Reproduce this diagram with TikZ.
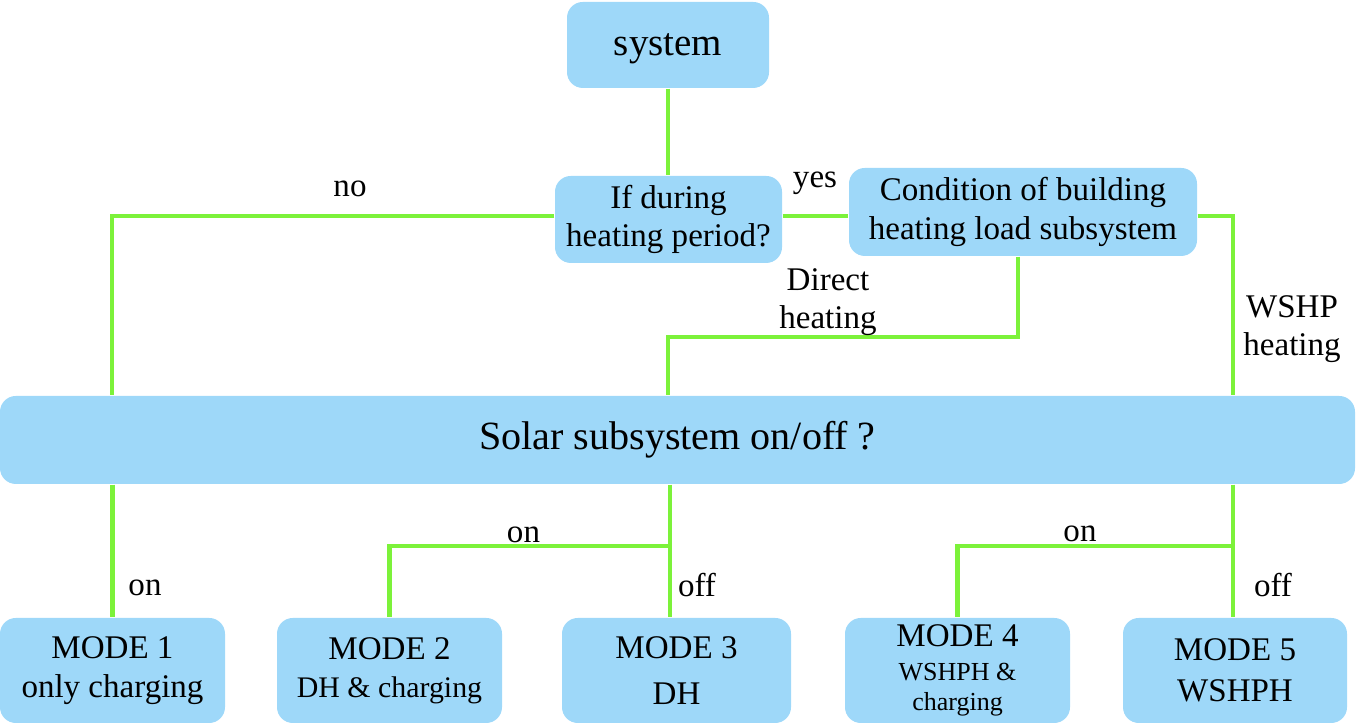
\documentclass[tikz,border=0pt]{standalone}
\usepackage{fontspec}
\setmainfont{Liberation Serif}
\usetikzlibrary{positioning}
\definecolor{boxblue}{RGB}{158,216,249}
\definecolor{linkgreen}{RGB}{124,242,58}
\tikzset{
  every picture/.style = {
    line join = miter,
  }
  ,
  block/.style = {
    rectangle,
    rounded corners = 4.5pt,
    fill = boxblue,
    align = center,
    inner sep = 0pt,
    font = \fontsize{9.4}{10.9}\selectfont
  }
  , % connectors
  link/.style = {
    draw = linkgreen,
    line width = 1.2pt
  }
  , % labels of connectors
  label-link/.style = {
    font = \fontsize{9.4}{10.7}\selectfont,
    align = center,
    inner sep = 0pt
  }
}

\begin{document}
\begin{tikzpicture}
\useasboundingbox (0,0) rectangle (13.57,7.23);
% decision boxes
\node[block, minimum width=2.02cm, minimum height=0.86cm, font=\fontsize{11.1}{13}\selectfont, text height=0.75em, text depth=0.13em] at (6.68,6.78) (sys) {system};
\node[block, minimum width=2.27cm, minimum height=0.87cm, yshift=-0.03cm] at (6.685,5.065) (per) {If during\\heating period?};
\node[block, minimum width=3.48cm, minimum height=0.88cm] at (10.23,5.11) (cond) {Condition of building\\heating load subsystem};
\node[block, minimum width=13.55cm, minimum height=0.88cm, font=\fontsize{11.4}{13}\selectfont] at (6.775,2.83) (sol) {Solar subsystem on/off ?};
% modes
\node[block, minimum width=2.25cm, minimum height=1.05cm] at (1.125,0.525) (m1) {MODE 1\\only charging};
\node[block, minimum width=2.25cm, minimum height=1.05cm] at (3.895,0.525) (m2) {MODE 2\\{\fontsize{8.5}{10}\selectfont DH \& charging}};
\node[block, minimum width=2.29cm, minimum height=1.05cm] at (6.765,0.525) (m3) {MODE 3\\[2.4pt]DH};
\node[block, minimum width=2.25cm, minimum height=1.05cm] at (9.575,0.525) (m4) {MODE 4\\[-1.3pt]{\fontsize{7.4}{9}\selectfont WSHPH \&}\\[-2.2pt]{\fontsize{7.4}{9}\selectfont charging}};
\node[block, minimum width=2.24cm, minimum height=1.05cm] at (12.35,0.525) (m5) {MODE 5\\[0.7pt]WSHPH};

% bends
\coordinate (nob) at (1.12,5.07);
\coordinate (dhb) at (10.18,3.86);
\coordinate (wsb) at (12.33,5.07);
\coordinate (b3) at (6.70,1.77);
\coordinate (b5) at (12.33,1.77);

% connectors
\draw[link] (sys.south) -- (sys.south |- per.north);
\draw[link] (per.west |- nob) -- (nob) -- (nob |- sol.north);
\draw[link] (per.east |- nob) -- (cond.west |- nob);
\draw[link] (cond.south -| dhb) -- (dhb) -| (6.68,0 |- sol.north);
\draw[link] (cond.east |- wsb) -- (wsb) -- (wsb |- sol.north);
\draw[link] (sol.south -| m1.north) -- (m1.north);
\draw[link] (sol.south -| b3) -- (b3 |- m3.north);
\draw[link] (b3) -| (m2.north);
\draw[link] (sol.south -| b5) -- (b5 |- m5.north);
\draw[link] (b5) -| (m4.north);

% labels
\node[label-link] at (3.50,5.345) (no) {no};
\node[label-link] at (8.15,5.395) (yes) {yes};
\node[label-link] at (8.28,4.21) (dir) {Direct\\heating};
\node[label-link] at (12.92,3.94) (wshp) {WSHP\\heating};
\node[label-link] at (1.45,1.35) (on1) {on};
\node[label-link] at (5.235,1.88) (on2) {on};
\node[label-link] at (6.97,1.38) (off3) {off};
\node[label-link] at (10.80,1.89) (on4) {on};
\node[label-link] at (12.73,1.38) (off5) {off};
\end{tikzpicture}
\end{document}
